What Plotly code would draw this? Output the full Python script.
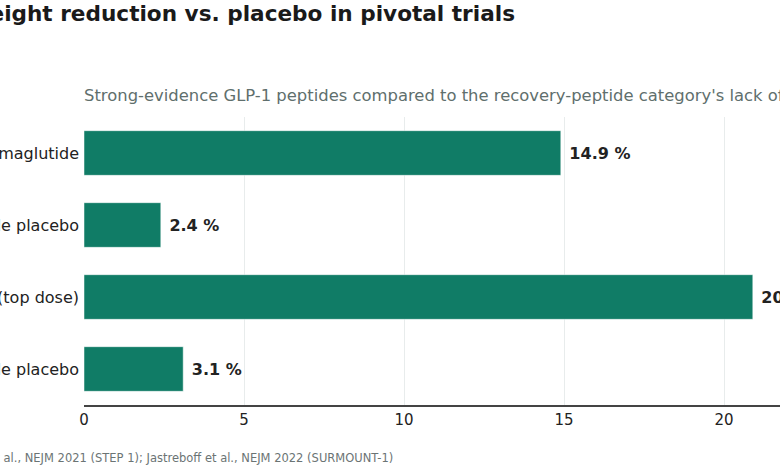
import plotly.graph_objects as go

categories = ["Semaglutide", "Semaglutide placebo", "Tirzepatide (top dose)", "Tirzepatide placebo"]
values = [14.9, 2.4, 20.9, 3.1]
tick_vals = [0, 5, 10, 15, 20]

title_text = "Mean body-weight reduction vs. placebo in pivotal trials"
subtitle_text = ("Strong-evidence GLP-1 peptides compared to the recovery-peptide category's lack of "
                 "comparable human trial data")
source_text = "Source: Wilding et al., NEJM 2021 (STEP 1); Jastreboff et al., NEJM 2022 (SURMOUNT-1)"

W, H = 780, 470
ML, MR, MT, MB = 84, 0, 117, 65
pw = W - ML - MR

fig = go.Figure(go.Bar(
    x=values, y=categories, orientation="h",
    marker=dict(color="#107c66", line=dict(color="white", width=0.5)),
    text=values, texttemplate=" %{x:.1f} %", textposition="outside",
    textfont=dict(family="DejaVu Sans", size=16, color="#222222", weight="bold"),
    cliponaxis=False, constraintext="none", hoverinfo="skip",
))

fig.update_layout(
    width=W, height=H,
    margin=dict(l=ML, r=MR, t=MT, b=MB, autoexpand=False),
    paper_bgcolor="white", plot_bgcolor="white",
    font=dict(family="DejaVu Sans", color="#333333"),
    bargap=0.38,
    showlegend=False,
    title=dict(text="<b>" + title_text + "</b>", xref="container", x=515 / W, xanchor="right",
               yref="container", y=1 - 13 / H, yanchor="middle",
               font=dict(family="DejaVu Sans", size=21.6, color="#1a1a1a")),
    xaxis=dict(range=[0, pw / 32.0], tickvals=tick_vals, showgrid=True, gridcolor="#e8ecec",
               gridwidth=1, zeroline=False, showline=True, linecolor="#444444", linewidth=1.5,
               ticks="", tickfont=dict(size=15, color="#222222"), automargin=False, fixedrange=True),
    yaxis=dict(autorange="reversed", showgrid=False, ticks="", ticklabelstandoff=4,
               tickfont=dict(size=16, color="#222222"), automargin=False, showline=False),
    annotations=[
        dict(text=subtitle_text, xref="paper", yref="paper", x=-2 / pw, xanchor="left",
             y=1 + (117 - 96) / (H - MT - MB), yanchor="middle", showarrow=False,
             font=dict(family="DejaVu Sans", size=16.4, color="#5f6f6d")),
        dict(text=source_text, xref="paper", yref="paper", x=(395 - ML) / pw, xanchor="right",
             y=-(458 - (H - MB)) / (H - MT - MB), yanchor="middle", showarrow=False,
             font=dict(family="DejaVu Sans", size=11.5, color="#6b7474")),
    ],
)

fig.write_html("out.html")
